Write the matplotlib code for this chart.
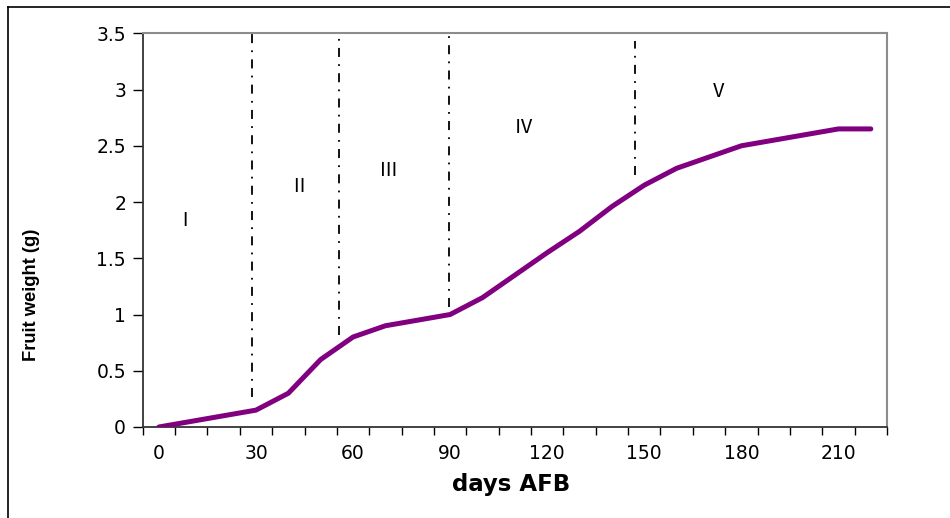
import matplotlib
matplotlib.use("Agg")
import matplotlib.pyplot as plt
from matplotlib.lines import Line2D

plt.rcParams["font.family"] = ["DejaVu Sans"]

# fruit weight every 10 days after full bloom
days = [0, 10, 20, 30, 40, 50, 60, 70, 80, 90, 100, 110,
        120, 130, 140, 150, 160, 170, 180, 190, 200, 210, 220]
weight = [0.00, 0.05, 0.10, 0.15, 0.30, 0.60, 0.80, 0.90, 0.95, 1.00, 1.15, 1.35,
          1.55, 1.74, 1.96, 2.15, 2.30, 2.40, 2.50, 2.55, 2.60, 2.65, 2.65]

# growth stage separators (day, y from, y to)
stage_x = [28.8, 55.8, 89.7, 147.1]
stage_y0 = [0.27, 0.815, 1.07, 2.24]
stage_y1 = [3.5, 3.5, 3.5, 3.43]

stage_names = ["Ⅰ", "Ⅱ", "Ⅲ", "Ⅳ", "Ⅴ"]
stage_name_x = [8.1, 43.3, 70.9, 112.6, 172.9]
stage_name_y = [1.84, 2.14, 2.28, 2.66, 2.98]

label_days = [0, 30, 60, 90, 120, 150, 180, 210]
y_ticks = [0, 0.5, 1, 1.5, 2, 2.5, 3, 3.5]
y_labels = ["0", "0.5", "1", "1.5", "2", "2.5", "3", "3.5"]

fig = plt.figure(figsize=(9.5, 5.18), dpi=100)
ax = fig.add_axes([142.7 / 950, 1 - 427 / 518, (887 - 142.7) / 950, (427 - 33.3) / 518])

ax.plot(days, weight, color="#800080", lw=3.6, solid_capstyle="round", zorder=3)

for x, y0, y1 in zip(stage_x, stage_y0, stage_y1):
    ax.plot([x, x], [y0, y1], color="black", lw=1.3, linestyle=(0, (5, 4, 1, 4)))

for name, x, y in zip(stage_names, stage_name_x, stage_name_y):
    ax.text(x, y, name, ha="center", va="center", fontsize=14,
            family=["Noto Sans CJK JP", "DejaVu Sans"])

ax.set_xlim(-5, 225)
ax.set_ylim(0, 3.5)

# category style axis: ticks between categories, labels every 30 days
ax.set_xticks([d - 5 for d in days] + [225])
ax.set_xticklabels([])
ax.set_xticks(label_days, minor=True)
ax.set_xticklabels([str(d) for d in label_days], minor=True, fontsize=13.5)
ax.tick_params(axis="x", which="major", length=6, width=1, direction="out", color="black")
ax.tick_params(axis="x", which="minor", length=0, pad=12)

ax.set_yticks(y_ticks)
ax.set_yticklabels(y_labels, fontsize=13.5)
ax.tick_params(axis="y", length=7, width=1, direction="out", pad=5)

for side in ["top", "right"]:
    ax.spines[side].set_color("#8c8c8c")
    ax.spines[side].set_linewidth(1.5)
for side in ["left", "bottom"]:
    ax.spines[side].set_color("#333333")
    ax.spines[side].set_linewidth(1.3)

fig.text(511 / 950, 1 - 484 / 518, "days AFB", ha="center", va="center",
         fontsize=16.5, fontweight="bold")
fig.text(31 / 950, 1 - 295 / 518, "Fruit weight (g)", ha="center", va="center",
         rotation=90, fontsize=13.2, fontweight="bold", family="Liberation Sans")

# outer chart frame (cropped at right and bottom)
fig.add_artist(Line2D([8 / 950, 1], [1 - 7 / 518, 1 - 7 / 518], color="black", lw=1.2))
fig.add_artist(Line2D([8 / 950, 8 / 950], [0, 1 - 7 / 518], color="black", lw=1.2))

fig.savefig("out.png", dpi=100)
plt.close(fig)
